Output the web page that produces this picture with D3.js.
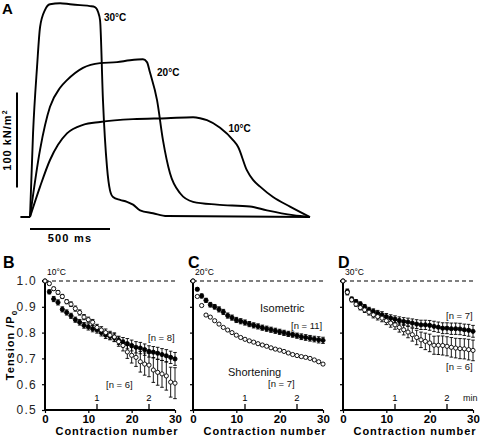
<!DOCTYPE html>
<html><head><meta charset="utf-8">
<script src="https://cdn.jsdelivr.net/npm/d3@7"></script>
<style>body{margin:0;background:#fff}svg{display:block;font-family:"Liberation Sans",Arial,sans-serif}</style>
</head><body><svg id="c" width="480" height="436"></svg>
<script>
// ---------- Panel A: tension traces (time in ms, tension in kN/m2) ----------
const t30 = [0,19,44,63,94,125,188,250,313,375,406,425,438,456,481,500,519,563,606,644,688,769,856,1750];
const p30 = [0,88,158,200,218,224,225,224,223,222,221,216,207,123,53,28,21,18,16,13,7,4,1,0];
const t20 = [0,63,125,188,231,331,438,544,625,706,731,750,794,831,875,938,1019,1169,1375,1481,1644,1750];
const p20 = [0,71,116,136,144,157,162,163,165,166,163,152,123,81,46,25,16,13,11,7,2,0];
const t10 = [0,63,125,175,231,331,438,644,856,1019,1063,1106,1188,1269,1300,1356,1394,1438,1519,1625,1750];
const p10 = [0,32,60,76,88,97,100,103,104,105,104,102,94,81,74,49,39,32,21,11,0];
const tempLabelsA = ["30\u00b0C","20\u00b0C","10\u00b0C"];
const scaleBarMs = 500, scaleBarKN = 100;

// ---------- Panels B-D: Tension/P0 vs contraction number ----------
const contraction = [0,1,2,3,4,5,6,7,8,9,10,11,12,13,14,15,16,17,18,19,20,21,22,23,24,25,26,27,28,29,30];
const isoB = [1.0,0.958,0.93,0.917,0.89,0.878,0.865,0.85,0.84,0.828,0.822,0.815,0.81,0.80,0.79,0.786,0.78,0.77,0.763,0.757,0.75,0.743,0.74,0.734,0.727,0.724,0.72,0.715,0.71,0.704,0.698];
const isoBerr = [0,0.008,0.01,0.01,0.01,0.01,0.01,0.01,0.011,0.011,0.012,0.012,0.012,0.013,0.013,0.014,0.015,0.016,0.018,0.02,0.021,0.022,0.022,0.022,0.022,0.022,0.023,0.023,0.024,0.024,0.025];
const shortB = [1.0,0.99,0.97,0.956,0.94,0.92,0.91,0.893,0.878,0.86,0.85,0.84,0.82,0.81,0.80,0.79,0.783,0.765,0.75,0.725,0.712,0.704,0.687,0.678,0.674,0.655,0.646,0.64,0.632,0.608,0.604];
const shortBerr = [0,0.005,0.006,0.007,0.008,0.008,0.009,0.01,0.01,0.01,0.01,0.011,0.012,0.013,0.014,0.015,0.016,0.018,0.021,0.025,0.03,0.035,0.04,0.043,0.045,0.048,0.05,0.052,0.055,0.058,0.06];
const isoC = [1.0,0.968,0.942,0.925,0.908,0.9,0.89,0.88,0.866,0.858,0.849,0.844,0.839,0.833,0.828,0.824,0.819,0.815,0.811,0.807,0.803,0.799,0.795,0.792,0.788,0.784,0.781,0.778,0.775,0.772,0.77];
const isoCerr = [0,0.006,0.008,0.008,0.009,0.009,0.01,0.01,0.01,0.01,0.01,0.01,0.01,0.01,0.01,0.01,0.01,0.01,0.01,0.01,0.01,0.01,0.01,0.01,0.01,0.011,0.011,0.011,0.011,0.012,0.012];
const shortC = [1.0,0.94,0.905,0.868,0.86,0.846,0.833,0.82,0.81,0.80,0.79,0.781,0.774,0.768,0.763,0.757,0.752,0.747,0.741,0.736,0.732,0.727,0.721,0.715,0.711,0.707,0.704,0.7,0.694,0.687,0.678];
const shortCerr = [0,0.004,0.004,0.004,0.004,0.004,0.004,0.004,0.004,0.004,0.004,0.004,0.004,0.004,0.004,0.004,0.004,0.004,0.004,0.004,0.004,0.004,0.004,0.004,0.004,0.004,0.004,0.004,0.004,0.004,0.004];
const isoD = [1.0,0.959,0.93,0.92,0.911,0.90,0.888,0.882,0.875,0.869,0.862,0.856,0.852,0.847,0.843,0.841,0.837,0.833,0.83,0.83,0.828,0.824,0.821,0.817,0.817,0.815,0.815,0.814,0.811,0.809,0.805];
const isoDerr = [0,0.01,0.008,0.008,0.008,0.009,0.01,0.01,0.011,0.012,0.012,0.013,0.013,0.014,0.015,0.015,0.016,0.017,0.018,0.018,0.019,0.02,0.02,0.021,0.021,0.022,0.022,0.022,0.022,0.023,0.023];
const shortD = [1.0,0.956,0.927,0.91,0.897,0.888,0.879,0.869,0.862,0.856,0.846,0.837,0.83,0.82,0.811,0.802,0.792,0.781,0.772,0.766,0.76,0.751,0.751,0.75,0.747,0.743,0.74,0.738,0.737,0.734,0.731];
const shortDerr = [0,0.01,0.008,0.008,0.009,0.01,0.011,0.012,0.013,0.014,0.015,0.016,0.017,0.018,0.02,0.022,0.025,0.028,0.03,0.032,0.034,0.035,0.036,0.037,0.037,0.038,0.038,0.039,0.039,0.04,0.04];
const yTicks = [0.5,0.6,0.7,0.8,0.9,1.0];
const xTicks = [0,10,20,30];
const minuteTicks = [12,24];
const minuteLabels = ["1","2"];
const panelLetters = ["B","C","D"];
const panelTemps = ["10\u00b0C","20\u00b0C","30\u00b0C"];

const svg = d3.select("#c");
const F = '"Liberation Sans", Arial, sans-serif';

// ===== Panel A =====
const xA = d3.scaleLinear().domain([0,1750]).range([30,310]);
const yA = d3.scaleLinear().domain([0,100]).range([217,122]);
const lineA = d3.line().x(d=>xA(d[0])).y(d=>yA(d[1])).curve(d3.curveMonotoneX);
[[t30,p30],[t20,p20],[t10,p10]].forEach(([t,p])=>{
  svg.append("path").datum(t.map((v,i)=>[v,p[i]]))
    .attr("d",lineA).attr("fill","none").attr("stroke","#000")
    .attr("stroke-width",1.9).attr("stroke-linejoin","round");
});
svg.append("line").attr("x1",xA(-60)).attr("x2",xA(0)).attr("y1",yA(0)).attr("y2",yA(0)).attr("stroke","#000").attr("stroke-width",2);
svg.append("text").attr("x",2).attr("y",14).text("A").attr("font-weight","bold").attr("font-size",15).attr("font-family",F);
const posTA = [[462,206],[794,148],[1240,90]];
tempLabelsA.forEach((s,i)=>{
  svg.append("text").attr("x",xA(posTA[i][0])).attr("y",yA(posTA[i][1])).text(s)
    .attr("font-weight","bold").attr("font-size",10).attr("font-family",F);
});
// scale bars
svg.append("line").attr("x1",17).attr("x2",17).attr("y1",yA(31)).attr("y2",yA(31+scaleBarKN)).attr("stroke","#000").attr("stroke-width",2);
svg.append("line").attr("x1",xA(0)).attr("x2",xA(scaleBarMs)).attr("y1",229).attr("y2",229).attr("stroke","#000").attr("stroke-width",2);
svg.append("text").attr("x",(xA(0)+xA(scaleBarMs))/2).attr("y",242).attr("text-anchor","middle")
  .text("500 ms").attr("font-weight","bold").attr("font-size",11).attr("letter-spacing",1.2).attr("font-family",F);
const tv = svg.append("text").attr("transform",`translate(11,${(yA(31)+yA(131))/2}) rotate(-90)`).attr("text-anchor","middle")
  .attr("font-weight","bold").attr("font-size",11).attr("letter-spacing",1).attr("font-family",F);
tv.append("tspan").text("100 kN/m");
tv.append("tspan").text("2").attr("font-size",7).attr("dy",-4);

// ===== Panels B-D =====
const panels = [
  {x0:45, iso:isoB, isoE:isoBerr, sh:shortB, shE:shortBerr},
  {x0:193, iso:isoC, isoE:isoCerr, sh:shortC, shE:shortCerr},
  {x0:343, iso:isoD, isoE:isoDerr, sh:shortD, shE:shortDerr}
];
const yS = d3.scaleLinear().domain([0.5,1.0]).range([410,281]);
panels.forEach((P,pi)=>{
  const xS = d3.scaleLinear().domain([0,30]).range([P.x0,P.x0+130]);
  const g = svg.append("g");
  g.append("line").attr("x1",xS(0)).attr("x2",xS(30)+3).attr("y1",yS(1)).attr("y2",yS(1))
    .attr("stroke","#000").attr("stroke-width",1.2).attr("stroke-dasharray","4,3");
  const ya = d3.axisLeft(yS).tickValues(yTicks).tickSize(3).tickPadding(5)
    .tickFormat(pi===0 ? d3.format(".1f") : ()=> "");
  const yg = g.append("g").attr("transform",`translate(${P.x0},0)`).call(ya);
  yg.select(".domain").attr("stroke-width",2).attr("d",`M-3,${yS(1)}H0V${yS(0.5)}`);
  yg.selectAll(".tick line").attr("stroke-width",1.2);
  yg.selectAll("text").attr("font-size",12).attr("letter-spacing",1.3).attr("font-family",F).attr("fill","#222");
  const xa = d3.axisBottom(xS).tickValues(xTicks).tickSize(3).tickPadding(2);
  const xg = g.append("g").attr("transform",`translate(0,${yS(0.5)})`).call(xa);
  xg.select(".domain").attr("stroke-width",2).attr("d",`M${xS(0)},0H${xS(30)}`);
  xg.selectAll(".tick line").attr("stroke-width",1.2);
  xg.selectAll("text").attr("font-size",11.5).attr("font-weight","bold").attr("font-family",F);
  minuteTicks.forEach((m,i)=>{
    g.append("line").attr("x1",xS(m)).attr("x2",xS(m)).attr("y1",yS(0.5)).attr("y2",yS(0.5)-6).attr("stroke","#000").attr("stroke-width",1.3);
    g.append("text").attr("x",xS(m)).attr("y",yS(0.5)-9).attr("text-anchor","middle").text(minuteLabels[i])
      .attr("font-size",9.5).attr("font-family",F);
  });
  g.append("text").attr("x",P.x0+72).attr("y",435).attr("text-anchor","middle").text("Contraction number")
    .attr("font-weight","bold").attr("font-size",11).attr("letter-spacing",1).attr("font-family",F);
  g.append("text").attr("x", pi===0 ? 3 : P.x0-5).attr("y",268).text(panelLetters[pi])
    .attr("font-weight","bold").attr("font-size",16).attr("font-family",F);
  g.append("text").attr("x",P.x0+2).attr("y",275).text(panelTemps[pi]).attr("font-size",8.5).attr("font-family",F);
  const series = [{v:P.iso,e:P.isoE,fill:"#000"},{v:P.sh,e:P.shE,fill:"#fff"}];
  series.forEach(S=>{
    const d = contraction.map((c,i)=>({c, v:S.v[i], e:S.e[i]}));
    const eb = g.append("g");
    d.filter(p=>p.e>0).forEach(p=>{
      const x = xS(p.c);
      eb.append("line").attr("x1",x).attr("x2",x).attr("y1",yS(p.v+p.e)).attr("y2",yS(p.v-p.e)).attr("stroke","#000").attr("stroke-width",0.9);
      eb.append("line").attr("x1",x-1.8).attr("x2",x+1.8).attr("y1",yS(p.v+p.e)).attr("y2",yS(p.v+p.e)).attr("stroke","#000").attr("stroke-width",0.9);
      eb.append("line").attr("x1",x-1.8).attr("x2",x+1.8).attr("y1",yS(p.v-p.e)).attr("y2",yS(p.v-p.e)).attr("stroke","#000").attr("stroke-width",0.9);
    });
    g.append("g").selectAll("circle").data(d).join("circle")
      .attr("cx",p=>xS(p.c)).attr("cy",p=>yS(p.v)).attr("r",2.1)
      .attr("fill",S.fill).attr("stroke","#000").attr("stroke-width",0.9);
  });
});
const ann = [
  {t:"[n = 8]", x:148, y:341, s:9.5},
  {t:"[n = 6]", x:106, y:388, s:9.5},
  {t:"Isometric", x:260, y:312, s:11},
  {t:"[n = 11]", x:291, y:329, s:9.5},
  {t:"Shortening", x:228, y:376, s:11},
  {t:"[n = 7]", x:268, y:387, s:9.5},
  {t:"[n = 7]", x:446, y:319, s:9.5},
  {t:"[n = 6]", x:446, y:370, s:9.5},
  {t:"min", x:463, y:401, s:9}
];
ann.forEach(a=>svg.append("text").attr("x",a.x).attr("y",a.y).text(a.t).attr("font-size",a.s).attr("font-family",F).attr("fill","#111"));
const yt = svg.append("text").attr("transform","translate(14,345) rotate(-90)").attr("text-anchor","middle")
  .attr("font-weight","bold").attr("font-size",11).attr("letter-spacing",1).attr("font-family",F);
yt.append("tspan").text("Tension /P");
yt.append("tspan").text("0").attr("font-size",8).attr("dy",3);
</script></body></html>
